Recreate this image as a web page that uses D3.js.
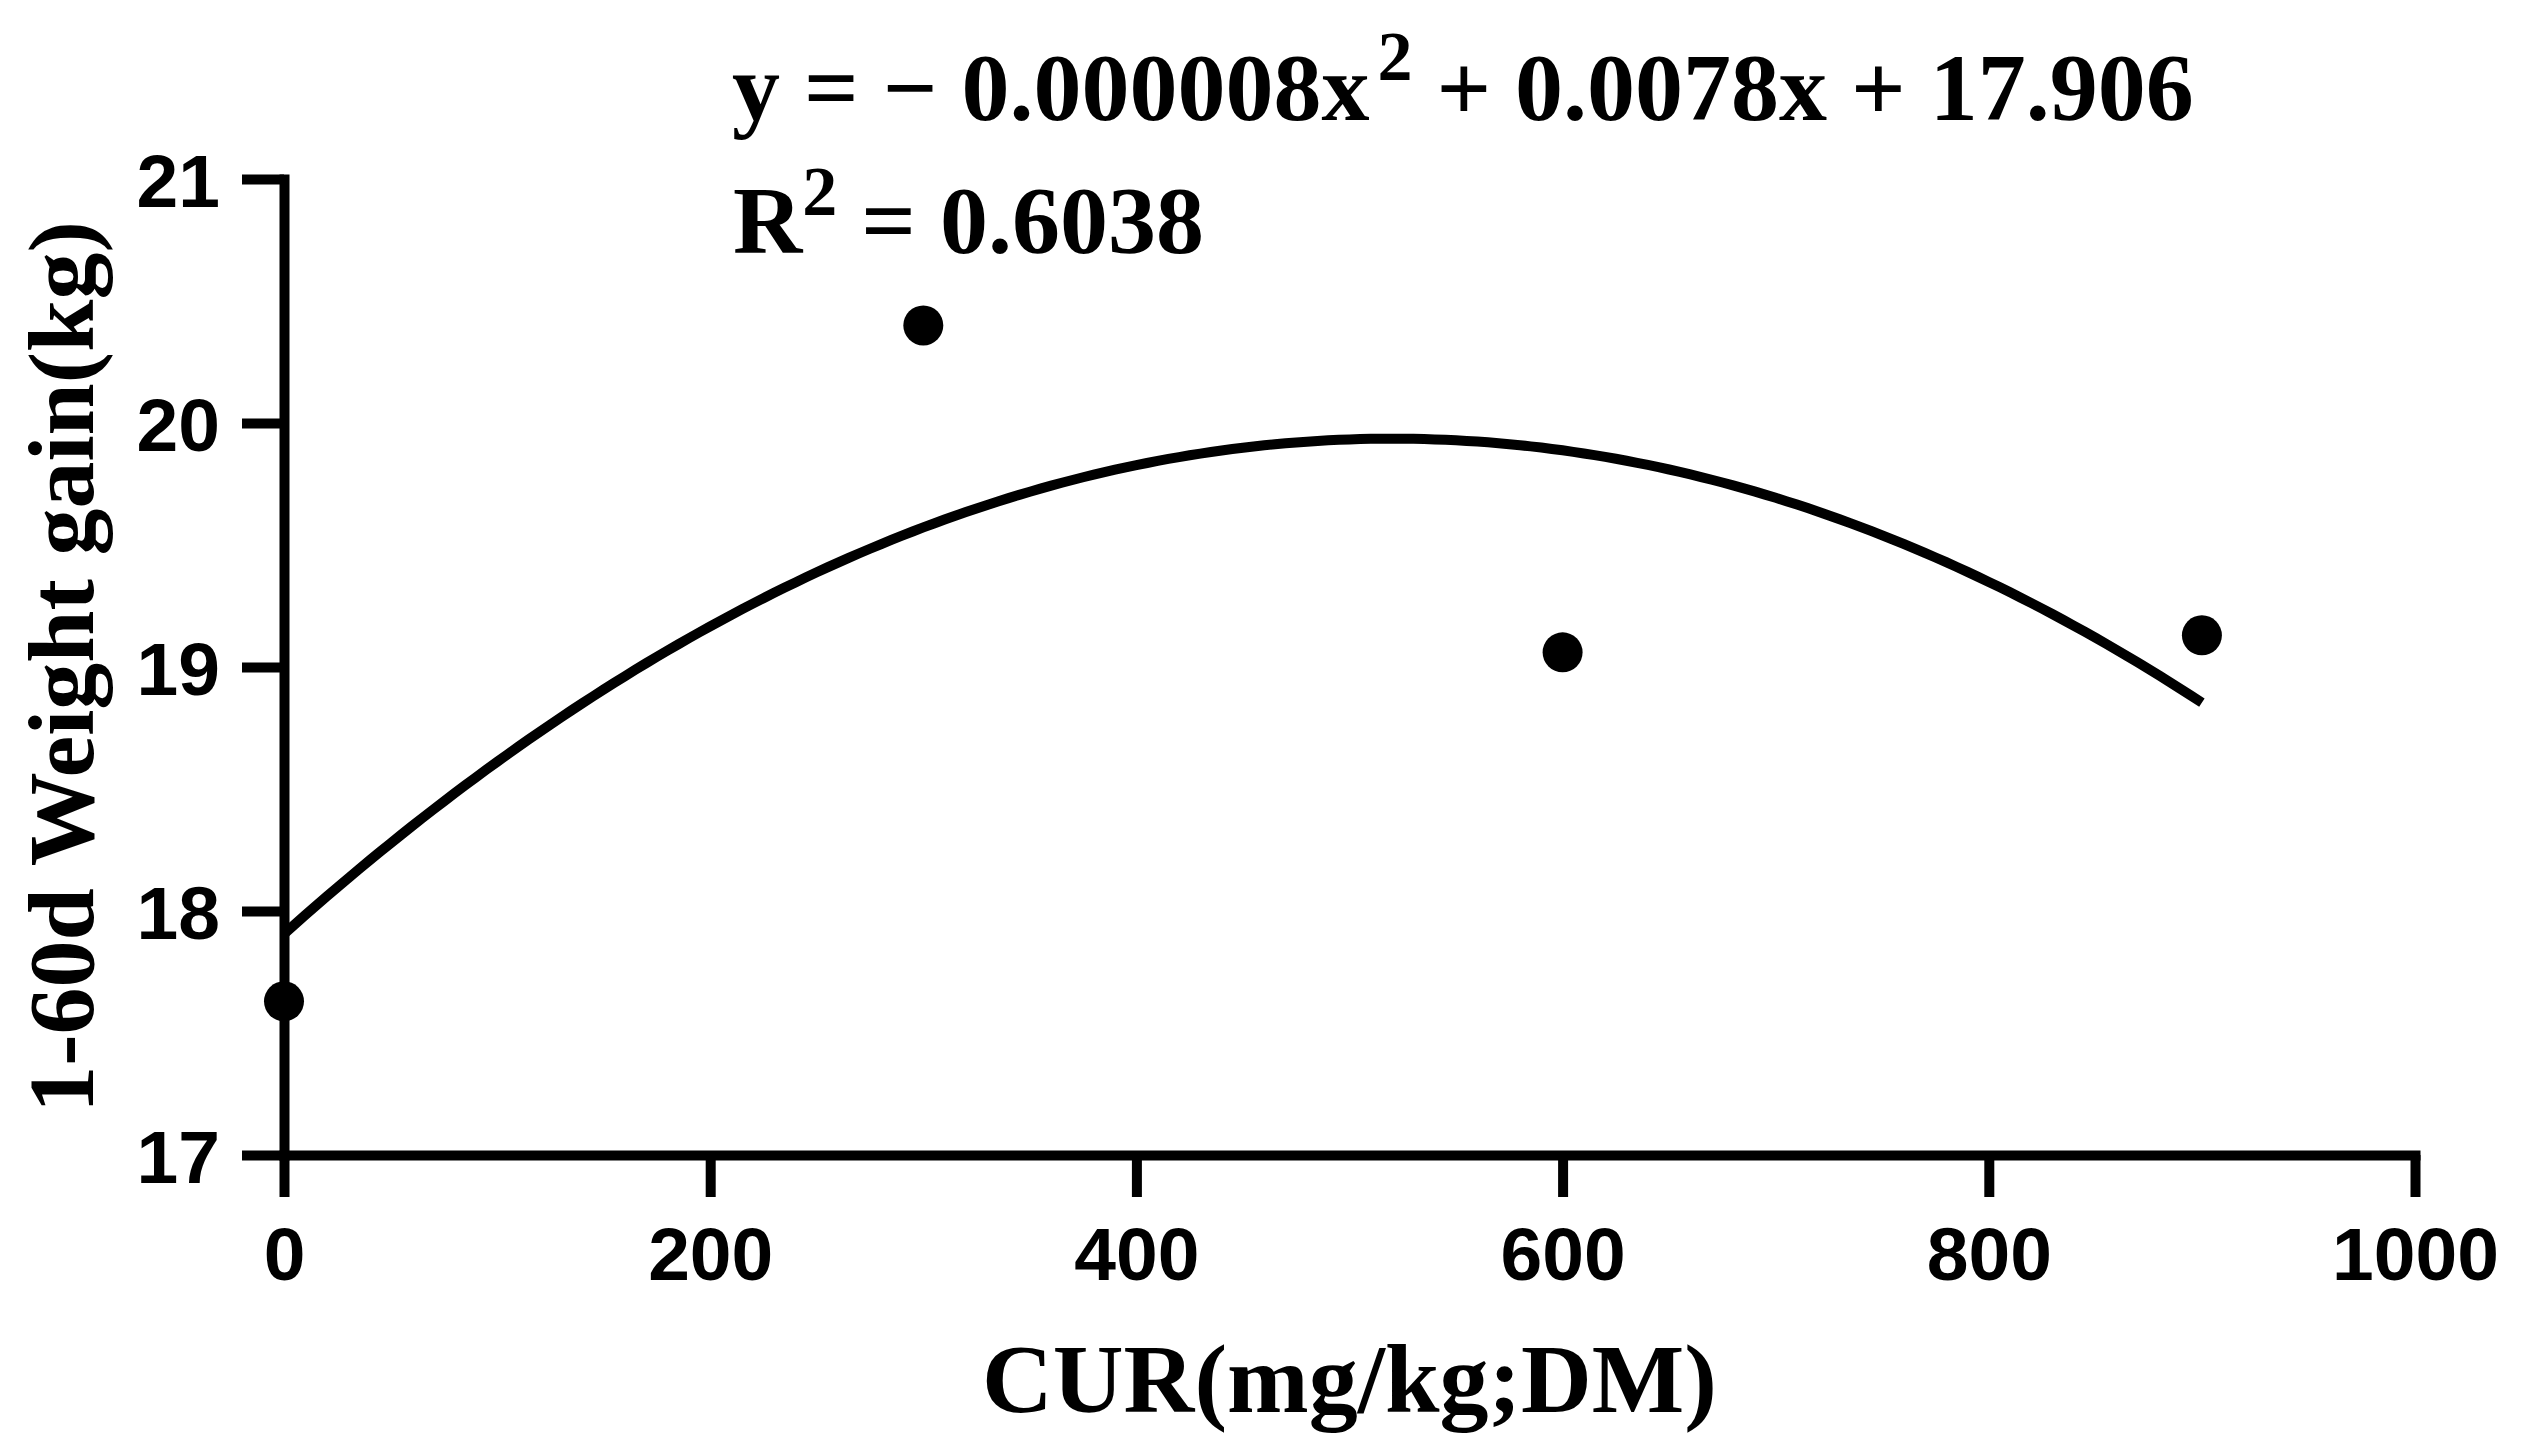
<!DOCTYPE html>
<html>
<head>
<meta charset="utf-8">
<script src="https://cdn.jsdelivr.net/npm/d3@7"></script>
<style>
  html, body { margin: 0; padding: 0; background: #fff; }
  svg { display: block; }
</style>
</head>
<body>
<div id="chart"></div>
<script>
// data
const curDose = [0, 300, 600, 900];
const weightGain = [17.63, 20.40, 19.06, 19.13];
const xTicks = [0, 200, 400, 600, 800, 1000];
const yTicks = [17, 18, 19, 20, 21];
const eqText = ["y", " = − 0.000008x", "2", " + 0.0078x + 17.906"];
const r2Text = ["R", "2", " = 0.6038"];

const W = 2526, H = 1450;
const margin = { left: 284, right: 2526 - 2415, top: 179, bottom: 1450 - 1155 };

const svg = d3.select("#chart").append("svg")
  .attr("width", W).attr("height", H)
  .attr("viewBox", `0 0 ${W} ${H}`);
svg.append("rect").attr("width", W).attr("height", H).attr("fill", "#fff");

const xScale = d3.scaleLinear().domain([0, 1000]).range([margin.left, W - margin.right]);
const yScale = d3.scaleLinear().domain([17, 21]).range([H - margin.bottom, margin.top]);

const tickFont = "'Liberation Sans', Arial, sans-serif";
const serif = "'Liberation Serif', 'Times New Roman', serif";

// x axis
const xAxisG = svg.append("g")
  .attr("transform", `translate(0, ${yScale(17)})`)
  .call(d3.axisBottom(xScale).tickValues(xTicks).tickFormat(d3.format("d"))
    .tickSize(42).tickSizeOuter(0).tickPadding(30));
// y axis
const yAxisG = svg.append("g")
  .attr("transform", `translate(${xScale(0)}, 0)`)
  .call(d3.axisLeft(yScale).tickValues(yTicks).tickFormat(d3.format("d"))
    .tickSize(42).tickSizeOuter(0).tickPadding(22));

[xAxisG, yAxisG].forEach((g) => {
  g.select(".domain").attr("stroke", "#000").attr("stroke-width", 10).attr("stroke-linecap", "square");
  g.selectAll(".tick line").attr("stroke", "#000").attr("stroke-width", 10);
  g.selectAll(".tick text")
    .attr("fill", "#000")
    .attr("font-family", tickFont)
    .attr("font-weight", "bold")
    .attr("font-size", 75);
});
xAxisG.selectAll(".tick text").attr("dy", "0.71em");
yAxisG.selectAll(".tick text").attr("dy", "0.36em");

// least squares quadratic fit from the points
function quadFit(xs, ys) {
  const n = xs.length;
  let s = [0, 0, 0, 0, 0], t = [0, 0, 0];
  for (let i = 0; i < n; i++) {
    for (let k = 0; k < 5; k++) s[k] += Math.pow(xs[i], k);
    for (let k = 0; k < 3; k++) t[k] += ys[i] * Math.pow(xs[i], k);
  }
  const m = [
    [s[0], s[1], s[2], t[0]],
    [s[1], s[2], s[3], t[1]],
    [s[2], s[3], s[4], t[2]],
  ];
  for (let i = 0; i < 3; i++) {
    for (let j = i + 1; j < 3; j++) {
      const f = m[j][i] / m[i][i];
      for (let k = i; k < 4; k++) m[j][k] -= f * m[i][k];
    }
  }
  const c = [0, 0, 0];
  for (let i = 2; i >= 0; i--) {
    let v = m[i][3];
    for (let k = i + 1; k < 3; k++) v -= m[i][k] * c[k];
    c[i] = v / m[i][i];
  }
  return c;
}
const coef = quadFit(curDose, weightGain);
const fitX = d3.range(0, 900.01, 5);
const line = d3.line()
  .x((d) => xScale(d))
  .y((d) => yScale(coef[0] + coef[1] * d + coef[2] * d * d));

svg.append("path")
  .datum(fitX)
  .attr("d", line)
  .attr("fill", "none")
  .attr("stroke", "#000")
  .attr("stroke-width", 10);

svg.append("g")
  .selectAll("circle")
  .data(curDose)
  .enter()
  .append("circle")
  .attr("cx", (d) => xScale(d))
  .attr("cy", (d, i) => yScale(weightGain[i]))
  .attr("r", 20)
  .attr("fill", "#000");

// axis titles
svg.append("text")
  .attr("x", (xScale(0) + xScale(1000)) / 2)
  .attr("y", 1412)
  .attr("text-anchor", "middle")
  .attr("font-family", serif)
  .attr("font-weight", "bold")
  .attr("font-size", 98)
  .text("CUR(mg/kg;DM)");

svg.append("text")
  .attr("transform", `translate(93, ${(yScale(17) + yScale(21)) / 2}) rotate(-90)`)
  .attr("text-anchor", "middle")
  .attr("font-family", serif)
  .attr("font-weight", "bold")
  .attr("font-size", 94)
  .text("1-60d Weight gain(kg)");

// equation
const eq = svg.append("text")
  .attr("x", 732).attr("y", 120)
  .attr("font-family", serif)
  .attr("font-weight", "bold")
  .attr("font-size", 96);
eq.append("tspan").text(eqText[0]);
eq.append("tspan").text(eqText[1]);
eq.append("tspan").attr("font-size", 70).attr("dy", -40).attr("dx", 8).text(eqText[2]);
eq.append("tspan").attr("dy", 40).text(eqText[3]);

const r2 = svg.append("text")
  .attr("x", 733).attr("y", 253)
  .attr("font-family", serif)
  .attr("font-weight", "bold")
  .attr("font-size", 96);
r2.append("tspan").text(r2Text[0]);
r2.append("tspan").attr("font-size", 70).attr("dy", -38).text(r2Text[1]);
r2.append("tspan").attr("dy", 38).text(r2Text[2]);
</script>
</body>
</html>
